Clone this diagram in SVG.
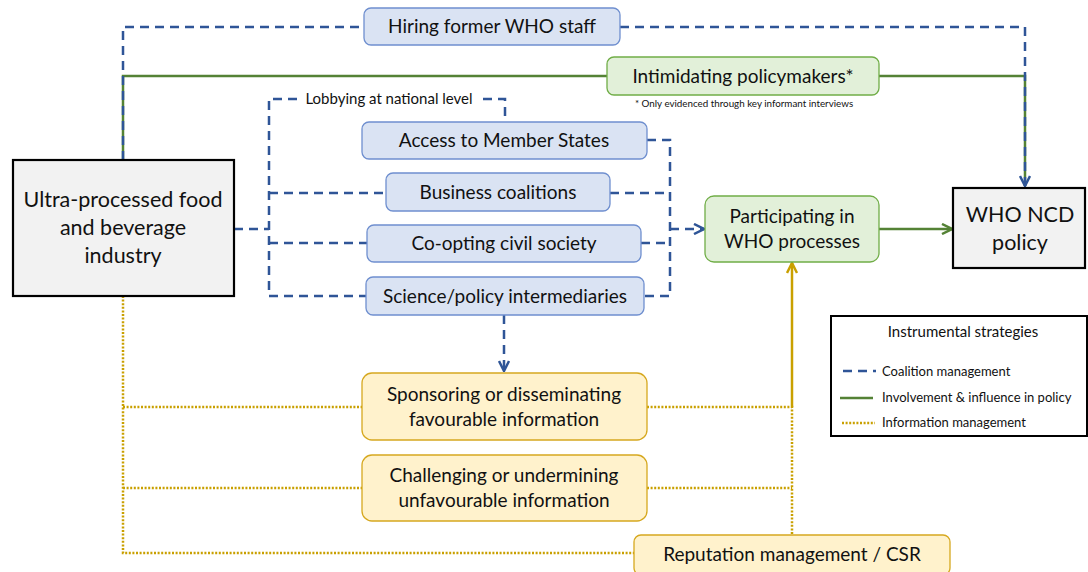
<svg xmlns="http://www.w3.org/2000/svg" width="1088" height="572" viewBox="0 0 1088 572">
<style>
text{font-family:Lato,"Open Sans","Liberation Sans",sans-serif;fill:#111;text-anchor:middle}
.t{font-size:19px}
.big{font-size:21.5px}
.blue rect{fill:#dae3f3;stroke:#6f8fcf;stroke-width:1.3}
.green rect{fill:#e2f0d9;stroke:#70ad47;stroke-width:1.3}
.gold rect{fill:#fff2cc;stroke:#d6a81f;stroke-width:1.3}
.grey rect{fill:#f2f2f2;stroke:#000;stroke-width:2.2}
.cm{fill:none;stroke:#2f5597;stroke-width:2.5;stroke-dasharray:9 6}
.inv{fill:none;stroke:#548235;stroke-width:2.5}
.info{fill:none;stroke:#c9a000;stroke-width:2.5;stroke-dasharray:2 1.6}
.infos{fill:none;stroke:#c9a000;stroke-width:2.5}
.lg{font-size:13px;text-anchor:start}
</style>
<defs>
<marker id="ab" viewBox="0 0 10 10" refX="9" refY="5" markerWidth="5" markerHeight="5" orient="auto"><path d="M1,1 L9,5 L1,9" fill="none" stroke="#2f5597" stroke-width="2"/></marker>
<marker id="ag" viewBox="0 0 10 10" refX="9" refY="5" markerWidth="5" markerHeight="5" orient="auto"><path d="M1,1 L9,5 L1,9" fill="none" stroke="#548235" stroke-width="2"/></marker>
<marker id="ao" viewBox="0 0 10 10" refX="9" refY="5" markerWidth="5" markerHeight="5" orient="auto"><path d="M1,1 L9,5 L1,9" fill="none" stroke="#c9a000" stroke-width="2"/></marker>
</defs>
<rect width="1088" height="572" fill="#fff"/>
<g id="connectors">
<path class="inv" d="M123,160 V76 H607"/>
<path class="inv" d="M879,76 H1025 V186"/>
<path class="cm" d="M123,160 V27 H364"/>
<path class="cm" d="M620,27 H1025 V186" marker-end="url(#ab)"/>
<path class="cm" d="M234,229 H269"/>
<path class="cm" d="M297,99 H269 V296 H366"/>
<path class="cm" d="M269,193 H386"/>
<path class="cm" d="M269,243 H367"/>
<path class="cm" d="M483,99 H505 V122"/>
<path class="cm" d="M647,140 H670 V296 H644"/>
<path class="cm" d="M610,193 H670"/>
<path class="cm" d="M641,243 H670"/>
<path class="cm" d="M670,229 H704" marker-end="url(#ab)"/>
<path class="cm" d="M504,315 V371" marker-end="url(#ab)"/>
<path class="inv" d="M879,229 H952" marker-end="url(#ag)"/>
<path class="info" d="M123,296 V553 H634"/>
<path class="info" d="M123,407 H362"/>
<path class="info" d="M123,488 H362"/>
<path class="info" d="M647,407 H792 V535"/>
<path class="info" d="M647,488 H792"/>
<path class="infos" d="M792,407 V263" marker-end="url(#ao)"/>
</g>
<g id="industry" class="grey"><rect x="13" y="160" width="221" height="136"/>
<text class="big" x="123" y="207">Ultra-processed food</text><text class="big" x="123" y="235">and beverage</text><text class="big" x="123" y="263">industry</text></g>
<g id="who-ncd" class="grey"><rect x="953" y="188" width="132" height="80"/>
<text class="big" x="1020" y="222">WHO NCD</text><text class="big" x="1020" y="250">policy</text></g>
<g id="hiring" class="blue"><rect x="364" y="8" width="256" height="37" rx="7"/><text class="t" x="492" y="33">Hiring former WHO staff</text></g>
<g id="intimidating" class="green"><rect x="607" y="57" width="272" height="38" rx="7"/><text class="t" x="743" y="83">Intimidating policymakers*</text></g>
<text id="footnote" x="744" y="107" style="font-size:9.8px">* Only evidenced through key informant interviews</text>
<text id="lobbying" x="389" y="104" style="font-size:15px">Lobbying at national level</text>
<g id="access" class="blue"><rect x="362" y="122" width="285" height="37" rx="7"/><text class="t" x="504" y="147">Access to Member States</text></g>
<g id="business" class="blue"><rect x="386" y="173" width="224" height="38" rx="7"/><text class="t" x="498" y="199">Business coalitions</text></g>
<g id="coopting" class="blue"><rect x="367" y="225" width="274" height="37" rx="7"/><text class="t" x="504" y="250">Co-opting civil society</text></g>
<g id="science" class="blue"><rect x="366" y="277" width="278" height="38" rx="7"/><text class="t" x="505" y="303">Science/policy intermediaries</text></g>
<g id="participating" class="green"><rect x="705" y="196" width="174" height="66" rx="9"/><text class="t" x="792" y="223">Participating in</text><text class="t" x="792" y="248">WHO processes</text></g>
<g id="sponsoring" class="gold"><rect x="362" y="373" width="285" height="67" rx="10"/><text class="t" x="504" y="401">Sponsoring or disseminating</text><text class="t" x="504" y="426">favourable information</text></g>
<g id="challenging" class="gold"><rect x="362" y="455" width="285" height="66" rx="10"/><text class="t" x="504" y="482">Challenging or undermining</text><text class="t" x="504" y="507">unfavourable information</text></g>
<g id="reputation" class="gold"><rect x="634" y="535" width="316" height="40" rx="7"/><text class="t" x="792" y="561">Reputation management / CSR</text></g>
<g id="legend">
<rect x="831" y="316" width="256" height="120" fill="#fff" stroke="#000" stroke-width="2"/>
<text x="963" y="337" style="font-size:15px">Instrumental strategies</text>
<path class="cm" d="M843,371 H876"/>
<path class="inv" d="M840,398 H873"/>
<path class="info" d="M842,423 H875"/>
<text class="lg" x="882" y="376">Coalition management</text>
<text class="lg" x="882" y="402">Involvement &amp; influence in policy</text>
<text class="lg" x="882" y="427">Information management</text>
</g>
</svg>
